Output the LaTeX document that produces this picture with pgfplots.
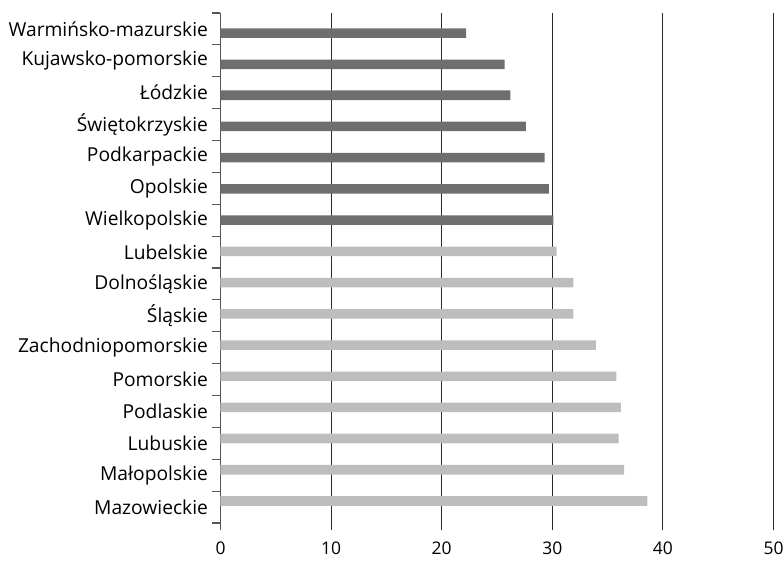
\documentclass[border=0pt]{standalone}
\usepackage{pgfplots}
\pgfplotsset{compat=1.18}
\usepackage{fontspec}
\setmainfont{Open Sans}
\definecolor{darkbar}{HTML}{6D6E70}
\definecolor{lightbar}{HTML}{BCBDBF}
\definecolor{gridc}{HTML}{2A2A2A}
\begin{document}
\begin{tikzpicture}
\begin{axis}[
  name=a,
  at={(0,0)}, anchor=south west,
  scale only axis,
  width=553bp, height=517bp,
  xmin=0, xmax=50,
  ymin=-0.72, ymax=15.5,
  xtick={0,10,20,30,40,50},
  xmajorgrids,
  grid style={gridc, line width=1.1pt},
  axis y line=left, axis x line=bottom,
  x axis line style={draw=none},
  y axis line style={draw=gridc!80, line width=1.1pt, -},
  ytick={0,...,15},
  yticklabels={Mazowieckie,Małopolskie,Lubuskie,Podlaskie,Pomorskie,Zachodniopomorskie,Śląskie,Dolnośląskie,Lubelskie,Wielkopolskie,Opolskie,Podkarpackie,Świętokrzyskie,Łódzkie,Kujawsko-pomorskie,Warmińsko-mazurskie},
  minor ytick={-0.5,0.5,1.5,2.5,3.5,4.5,5.5,6.5,7.5,8.5,9.5,10.5,11.5,12.5,13.5,14.5,15.5},
  major tick length=0pt,
  minor tick length=8bp,
  tick align=outside,
  minor tick style={draw=gridc!80, line width=1.1pt},
  yticklabel style={font=\fontsize{19.3}{22}\selectfont, xshift=-9bp},
  xticklabel style={font=\fontsize{17.5}{20}\selectfont, inner sep=0pt, yshift=-12bp},
  /pgf/number format/assume math mode=true,
  xbar, bar shift=0pt, bar width=0.3,
]
\addplot[fill=lightbar, draw=none] coordinates {
(38.6,0.19) (36.5,1.17) (36.0,2.15) (36.2,3.13) (35.8,4.10) (33.95,5.08) (31.9,6.06) (31.9,7.04) (30.4,8.02)
};
\addplot[fill=darkbar, draw=none] coordinates {
(30.1,9.00) (29.7,9.98) (29.3,10.96) (27.6,11.94) (26.2,12.92) (25.7,13.89) (22.2,14.87)
};
\end{axis}
\pgfresetboundingbox
\path[use as bounding box] ([xshift=-220.5bp,yshift=-31bp]a.south west) rectangle ([xshift=9.5bp,yshift=13bp]a.north east);
\end{tikzpicture}
\end{document}
